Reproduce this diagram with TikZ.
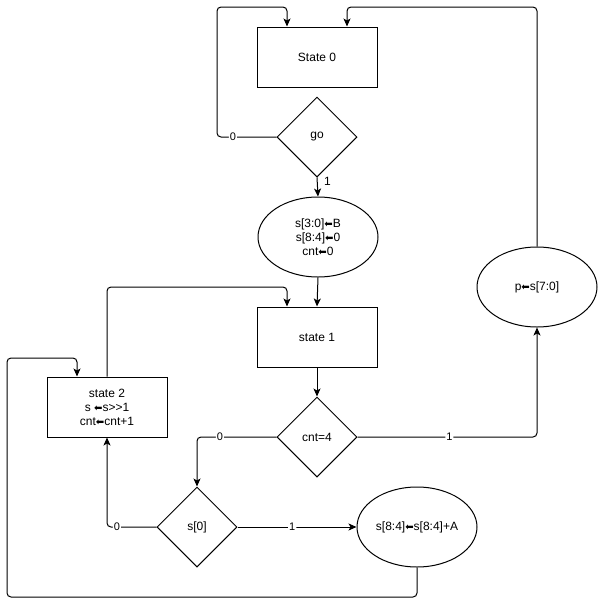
\documentclass[tikz,border=0pt]{standalone}
\usepackage{fontspec}
\setmainfont{Liberation Sans}
\newfontfamily\arrfont{DejaVu Sans}
\newcommand\larr{{\arrfont\fontsize{10}{14}\selectfont ⬅}}
\usetikzlibrary{shapes.geometric,arrows.meta}
\begin{document}
\begin{tikzpicture}[x=1pt,y=-1pt,line width=1pt,
  font=\fontsize{12}{14}\selectfont,
  box/.style={draw, rectangle, minimum width=120pt, minimum height=60pt, inner sep=0pt, align=center},
  dec/.style={draw, diamond, minimum width=80pt, minimum height=80pt, inner sep=0pt},
  oval/.style={draw, ellipse, minimum width=120pt, minimum height=80pt, inner sep=0pt, align=center},
  arr/.style={-{Stealth[length=8pt,width=7pt,inset=2pt]}, rounded corners=4pt},
  lbl/.style={fill=white, inner sep=1pt, font=\fontsize{11}{13}\selectfont}]
\useasboundingbox (0,0) rectangle (598,606);
\node[box]  (s0)  at (317,57)  {State 0};
\node[dec]  (go)  at (317,137) {go};
\node[oval] (e1)  at (318,237) {s[3:0]\larr{}B\\s[8:4]\larr{}0\\cnt\larr{}0};
\node[box]  (s1)  at (317,337) {state 1};
\node[dec]  (cnt) at (317,437) {cnt=4};
\node[oval] (p)   at (537,287) {p\larr{}s[7:0]};
\node[box]  (s2)  at (107,407) {state 2\\s \larr{}s>{}>1\\cnt\larr{}cnt+1};
\node[dec]  (sd)  at (197,527) {s[0]};
\node[oval] (e3)  at (417,527) {s[8:4]\larr{}s[8:4]+A};
\coordinate (g1) at (217,7);
\coordinate (p1) at (347,7);
\coordinate (t1) at (107,287);
\coordinate (b1) at (7,597);
\coordinate (b2) at (7,358);
\draw[arr] (go.west) -| node[lbl,pos=0.367]{0} (g1) -| ([xshift=-30pt]s0.north);
\draw[arr] (p.north) |- (p1) -- ([xshift=30pt]s0.north);
\draw[arr] (go.south) -- node[pos=0.2,anchor=west,xshift=3pt]{1} (e1.north);
\draw[arr] (e1.south) -- (s1.north);
\draw[arr] (s1.south) -- (cnt.north);
\draw[arr] (cnt.east) -| node[lbl,pos=0.256]{1} (p.south);
\draw[arr] (cnt.west) -| node[lbl,pos=0.356]{0} (sd.north);
\draw[arr] (sd.west) -| node[lbl,pos=0.4]{0} (s2.south);
\draw[arr] (sd.east) -- node[lbl,pos=0.46]{1} (e3.west);
\draw[arr] (e3.south) |- (b1) -- (b2) -| ([xshift=-30pt]s2.north);
\draw[arr] (s2.north) -- (t1) -| ([xshift=-30pt]s1.north);
\end{tikzpicture}
\end{document}
